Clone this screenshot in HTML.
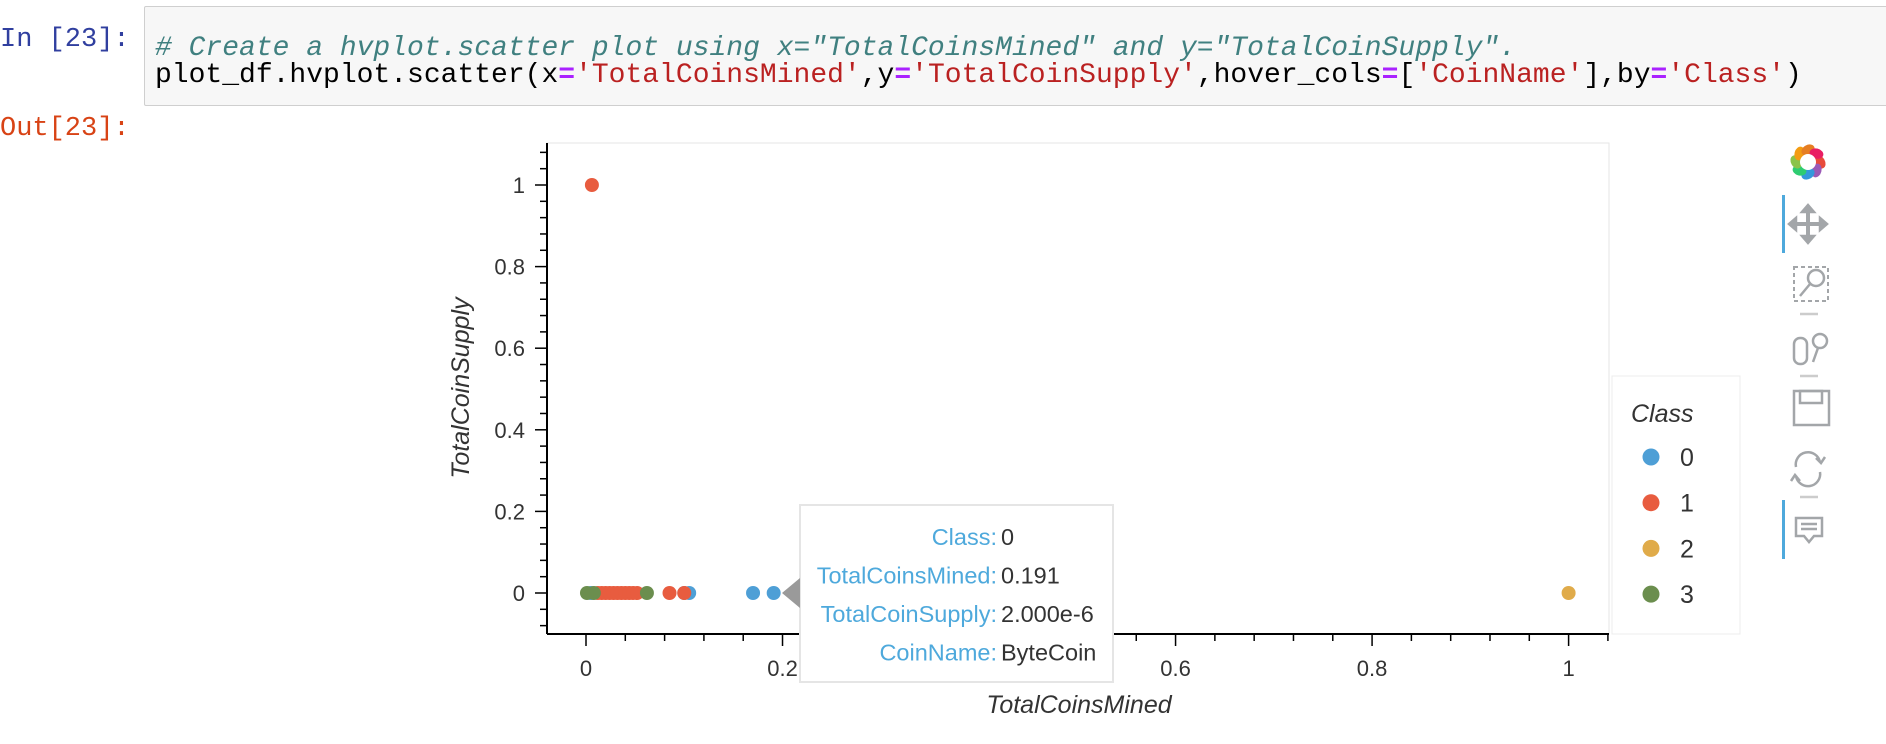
<!DOCTYPE html>
<html><head><meta charset="utf-8">
<style>
body{margin:0;width:1886px;height:744px;background:#fff;position:relative;overflow:hidden;font-family:"Liberation Sans",sans-serif}
.prompt{position:absolute;font-family:"Liberation Mono",monospace;font-size:27px;line-height:32px}
#cell{position:absolute;left:144px;top:6px;width:1750px;height:98px;background:#f7f7f7;border:1px solid #cfcfcf;border-radius:2px;font-family:"Liberation Mono",monospace;font-size:28px;line-height:32px}
#cell div{position:absolute;left:10px;white-space:pre}
.c{color:#408080;font-style:italic}.s{color:#ba2121}.o{color:#aa22ff;font-weight:bold}
</style></head><body>
<div class="prompt" style="left:0;top:24px;color:#303f9f">In [23]:</div>
<div id="cell">
<div style="top:26px" class="c"># Create a hvplot.scatter plot using x="TotalCoinsMined" and y="TotalCoinSupply".</div>
<div style="top:53px">plot_df.hvplot.scatter(x<span class="o">=</span><span class="s">'TotalCoinsMined'</span>,y<span class="o">=</span><span class="s">'TotalCoinSupply'</span>,hover_cols<span class="o">=</span>[<span class="s">'CoinName'</span>],by<span class="o">=</span><span class="s">'Class'</span>)</div>
</div>
<div class="prompt" style="left:0;top:113px;color:#d84315">Out[23]:</div>
<svg id="chart" width="1886" height="744" style="position:absolute;left:0;top:0" font-family="Liberation Sans, sans-serif"></svg>
<script>
const classes=['0','1','2','3'];
const colors=['#4e9fd6','#e85c3f','#e0ab4a','#6b8e4e'];
const xs0=[0.005,0.1,0.105,0.17,0.191];
const ys0=[0,0,0,0,0];
const xs1=[0.006,0.012,0.016,0.02,0.024,0.028,0.032,0.036,0.04,0.044,0.048,0.052,0.085,0.1];
const ys1=[1,0,0,0,0,0,0,0,0,0,0,0,0,0];
const xs2=[1];
const ys2=[0];
const xs3=[0.001,0.008,0.062];
const ys3=[0,0,0];
const xTicks=[0,0.2,0.4,0.6,0.8,1];
const yTicks=[0,0.2,0.4,0.6,0.8,1];
const NS='http://www.w3.org/2000/svg';
const svg=document.getElementById('chart');
const X=v=>586+v*982.6, Y=v=>593-v*408;
function el(t,a,p){const e=document.createElementNS(NS,t);for(const k in a)e.setAttribute(k,a[k]);(p||svg).appendChild(e);return e;}
const fr=el('rect',{x:547,y:143,width:1062,height:491,fill:'#fff',stroke:'#e6e6e6'});


const ax=el('line',{x1:547,y1:634,x2:1609,y2:634,stroke:'#000','stroke-width':2});


const ay=el('line',{x1:547,y1:143,x2:547,y2:634,stroke:'#000','stroke-width':2});


for(let v=-0.04;v<=1.09;v+=0.04){const x=X(v);if(x<548||x>1608)continue;const mj=Math.abs(v*5-Math.round(v*5))<1e-6;el('line',{x1:x,y1:634,x2:x,y2:mj?646:641,stroke:'#000','stroke-width':1.5});}
for(let v=-0.2;v<=1.1;v+=0.04){const y=Y(v);if(y<144||y>633)continue;const mj=Math.abs(v*5-Math.round(v*5))<1e-6;el('line',{x1:547,y1:y,x2:mj?535:540,y2:y,stroke:'#000','stroke-width':1.5});}
xTicks.forEach(v=>{const t=el('text',{x:X(v),y:676,'text-anchor':'middle','font-size':22,fill:'#333'});t.textContent=String(v);

});
yTicks.forEach(v=>{const t=el('text',{x:525,y:Y(v)+8,'text-anchor':'end','font-size':22,fill:'#333'});t.textContent=String(v);

});
const xt=el('text',{x:1079,y:713,'text-anchor':'middle','font-size':25,'font-style':'italic',fill:'#333'});xt.textContent='TotalCoinsMined';


const yt=el('text',{x:0,y:0,'text-anchor':'middle','font-size':25,'font-style':'italic',fill:'#333',transform:'translate(469,388) rotate(-90)'});yt.textContent='TotalCoinSupply';


[[xs0,ys0],[xs1,ys1],[xs2,ys2],[xs3,ys3]].forEach((s,i)=>{s[0].forEach((xv,j)=>{const c=el('circle',{cx:X(xv),cy:Y(s[1][j]),r:7,fill:colors[i]});

});});
const lg=el('rect',{x:1612,y:376,width:128,height:258,fill:'#fff',stroke:'#ececec'});


const lt=el('text',{x:1631,y:422,'font-size':25,'font-style':'italic',fill:'#333'});lt.textContent='Class';


classes.forEach((c,i)=>{const y=457+i*45.7;const g=el('g',{});


el('circle',{cx:1651,cy:y,r:8.5,fill:colors[i]},g);const t=el('text',{x:1680,y:y+9,'font-size':25,fill:'#333'},g);t.textContent=c;});
const tg=el('g',{});


el('rect',{x:800,y:505,width:313,height:177,fill:'#fff',stroke:'#e5e5e5','stroke-width':2},tg);
el('path',{d:'M782 593 L800 578 L800 608 Z',fill:'#9a9a9a'},tg);
[['Class:','0'],['TotalCoinsMined:','0.191'],['TotalCoinSupply:','2.000e-6'],['CoinName:','ByteCoin']].forEach((r,i)=>{const y=545+i*38.5;const a=el('text',{x:997,y:y,'text-anchor':'end','font-size':23.5,fill:'#4ea9dc'},tg);a.textContent=r[0];const b=el('text',{x:1001,y:y,'font-size':23.5,fill:'#333'},tg);b.textContent=r[1];});
const tb=el('g',{fill:'none',stroke:'#a3a6a9','stroke-width':2.5});


const lc=['#e84b3c','#9b59b6','#3498db','#2ecc71','#8bc34a','#f39c12','#e67e22','#e91e63'];
lc.forEach((c,i)=>{const a=i*Math.PI/4;el('ellipse',{cx:1808+12*Math.cos(a),cy:162+12*Math.sin(a),rx:7,ry:5,fill:c,stroke:'none',transform:`rotate(${i*45+60} ${1808+12*Math.cos(a)} ${162+12*Math.sin(a)})`},tb);});
el('circle',{cx:1808,cy:162,r:8,fill:'#fff',stroke:'none'},tb);
el('rect',{x:1782,y:195,width:3,height:58,fill:'#4ea9dc',stroke:'none'},tb);
el('rect',{x:1782,y:500,width:3,height:59,fill:'#4ea9dc',stroke:'none'},tb);
el('path',{d:'M1808 208 V240 M1792 224 H1824',"stroke-width":4},tb);
el('path',{d:'M1802 212 L1808 205 L1814 212 Z M1802 236 L1808 243 L1814 236 Z M1796 218 L1789 224 L1796 230 Z M1820 218 L1827 224 L1820 230 Z',fill:'#a3a6a9'},tb);
el('rect',{x:1794,y:267,width:34,height:34,'stroke-dasharray':'4 3','stroke-width':2},tb);
el('circle',{cx:1816,cy:278,r:8},tb);el('path',{d:'M1810 284 L1800 296'},tb);
el('path',{d:'M1800 314 H1818 M1800 376 H1818 M1800 497 H1818',stroke:'#ccc'},tb);
el('rect',{x:1794,y:338,width:13,height:26,rx:6},tb);el('circle',{cx:1820,cy:341,r:7},tb);el('path',{d:'M1818 348 L1813 362'},tb);
el('rect',{x:1794,y:391,width:35,height:34},tb);el('rect',{x:1800,y:391,width:22,height:12},tb);
el('path',{d:'M1796 467 A12 12 0 0 1 1820 462 M1820 472 A12 12 0 0 1 1796 476'},tb);
el('path',{d:'M1816 458 L1821 463 L1825 457 M1800 481 L1795 475 L1791 481'},tb);
el('path',{d:'M1796 518 H1822 V536 H1814 L1809 542 L1804 536 H1796 Z M1801 524 H1817 M1801 529 H1817'},tb);
</script>
</body></html>
